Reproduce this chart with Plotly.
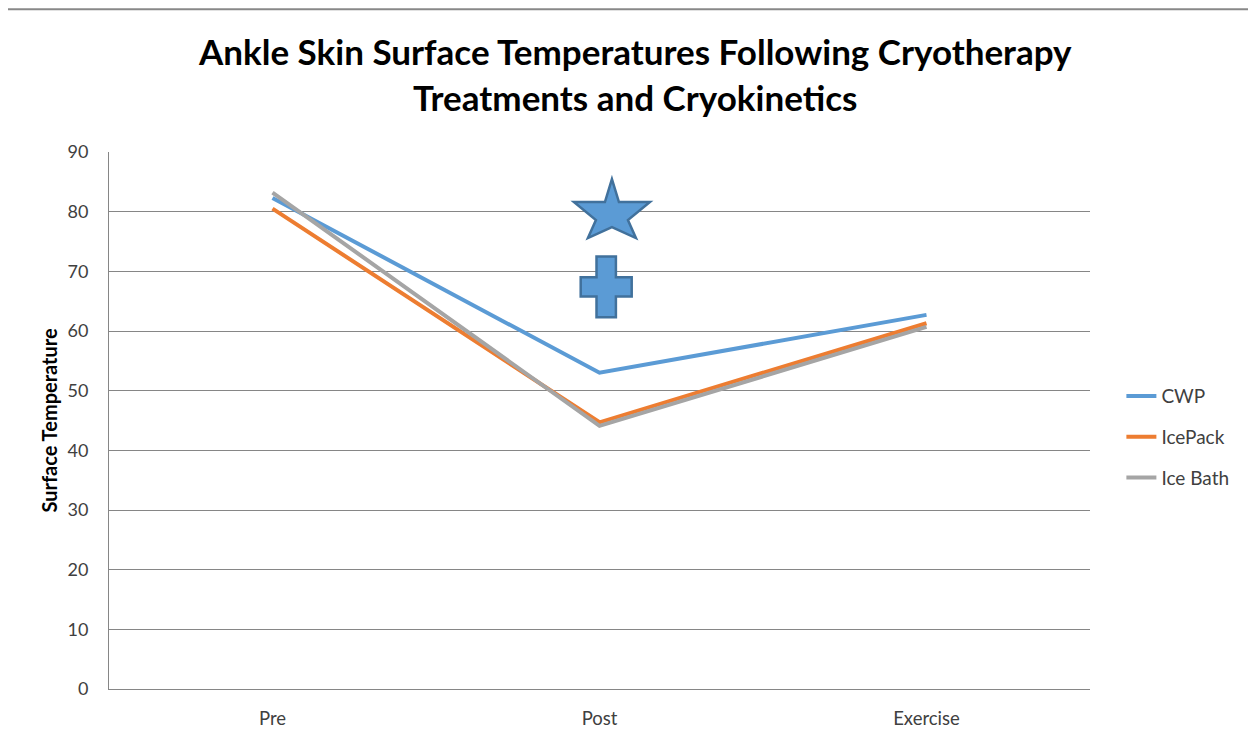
import plotly.graph_objects as go

categories = ["Pre", "Post", "Exercise"]
cwp = [82.3, 53.0, 62.7]
icepack = [80.5, 44.7, 61.3]
icebath = [83.2, 44.1, 60.7]
series_names = ["CWP", "IcePack", "Ice Bath"]
colors = ["#5B9BD5", "#ED7D31", "#A5A5A5"]
y_ticks = [0, 10, 20, 30, 40, 50, 60, 70, 80, 90]

# significance symbols: anchor (x in category index units, y in temperature units)
star_anchor = (1.038, 80.6)
cross_anchor = (1.0205, 67.4)

# symbol outlines in pixels relative to the anchor (screen-style: +y is down)
star_px = [(0, -29), (7, -6), (38, -6), (16, 12), (24, 30), (0, 19),
           (-24, 30), (-16, 12), (-38, -6), (-7, -6)]
cw, ca, ch = 25.5, 9.7, 30.3
cross_px = [(-ca, -ch), (ca, -ch), (ca, -ca), (cw, -ca), (cw, ca), (ca, ca),
            (ca, ch), (-ca, ch), (-ca, ca), (-cw, ca), (-cw, -ca), (-ca, -ca)]


def px_path(pts):
    # pixel-mode shapes use +y upward, so flip the screen-style offsets
    return "M " + " L ".join(f"{x},{-y}" for x, y in pts) + " Z"


fig = go.Figure()
for name, vals, col in zip(series_names, [cwp, icepack, icebath], colors):
    fig.add_trace(go.Scatter(
        x=[0, 1, 2], y=vals, mode="lines", name=name, legendgroup=name,
        line=dict(color=col, width=4),
    ))

shapes = [dict(type="line", xref="paper", yref="paper", x0=-0.103, x1=1.17, y0=1.266, y1=1.266,
               line=dict(color="#888888", width=2))]
for anchor, pts in [(star_anchor, star_px), (cross_anchor, cross_px)]:
    shapes.append(dict(
        type="path", xref="x", yref="y", xsizemode="pixel", ysizemode="pixel",
        xanchor=anchor[0], yanchor=anchor[1], path=px_path(pts),
        fillcolor="#5B9BD5", line=dict(color="#41719C", width=2.5), layer="above",
    ))

fig.update_layout(
    width=1248, height=734,
    paper_bgcolor="white", plot_bgcolor="white",
    margin=dict(l=101, r=166, t=144, b=53),
    font=dict(family="Lato, Open Sans, sans-serif", color="#404040"),
    showlegend=True,
    legend=dict(
        x=1.032, xanchor="left", y=0.469, yanchor="middle",
        font=dict(size=19, color="#404040"), tracegroupgap=13,
        bgcolor="rgba(0,0,0,0)",
    ),
    xaxis=dict(
        range=[-0.5, 2.5], tickmode="array", tickvals=[0, 1, 2], ticktext=categories,
        showgrid=False, zeroline=False, showline=True, linecolor="#868686", linewidth=1,
        tickfont=dict(size=18.5, color="#404040"), ticklabelstandoff=13, fixedrange=True,
    ),
    yaxis=dict(
        range=[0, 90], tickmode="array", tickvals=y_ticks,
        showgrid=True, gridcolor="#868686", gridwidth=1, zeroline=False,
        showline=True, linecolor="#868686", linewidth=1,
        tickfont=dict(size=18, color="#404040"), ticklabelstandoff=16,
        title=dict(text="Surface Temperature", font=dict(size=20, color="black", weight="bold"), standoff=4),
        fixedrange=True,
    ),
    annotations=[dict(
        text="Ankle Skin Surface Temperatures Following Cryotherapy<br>Treatments and Cryokinetics",
        xref="paper", yref="paper", x=0.536, y=1.145,
        xanchor="center", yanchor="middle", showarrow=False,
        font=dict(family="Lato, Open Sans, sans-serif", size=35, color="black", weight="bold"),
    )],
    shapes=shapes,
)

fig.write_html("out.html")
